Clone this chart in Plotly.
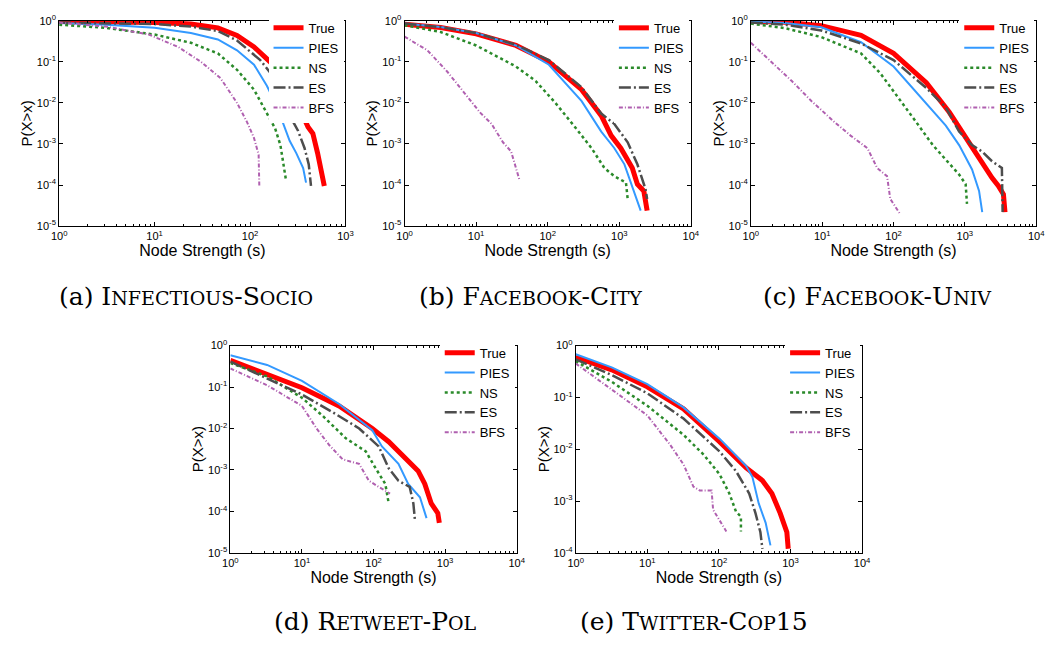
import plotly.graph_objects as go

# ---------------- data ----------------
SERIES = ["True", "PIES", "NS", "ES", "BFS"]
PANELS = ["a", "b", "c", "d", "e"]
SC = "<span style='font-size:19px'>"
CAPTIONS = [
    "(a) I" + SC + "NFECTIOUS</span>-S" + SC + "OCIO</span>",
    "(b) F" + SC + "ACEBOOK</span>-C" + SC + "ITY</span>",
    "(c) F" + SC + "ACEBOOK</span>-U" + SC + "NIV</span>",
    "(d) R" + SC + "ETWEET</span>-P" + SC + "OL</span>",
    "(e) T" + SC + "WITTER</span>-C" + SC + "OP</span>15",
]
X_TICKVALS = [1, 10, 100, 1000, 10000]
X_TICKTEXT = ["10<sup>0</sup>", "10<sup>1</sup>", "10<sup>2</sup>", "10<sup>3</sup>", "10<sup>4</sup>"]
Y_TICKVALS = [1e-5, 1e-4, 1e-3, 1e-2, 1e-1, 1]
Y_TICKTEXT = ["10<sup>-5</sup>", "10<sup>-4</sup>", "10<sup>-3</sup>", "10<sup>-2</sup>", "10<sup>-1</sup>", "10<sup>0</sup>"]
X_RANGES = [[0, 3], [0, 4], [0, 4], [0, 4], [0, 4]]   # log10 decades
Y_RANGES = [[-5, 0], [-5, 0], [-5, 0], [-5, 0], [-4, 0]]

# (a) Infectious-Socio
A_TRUE_S = [1, 3.1, 10.2, 24, 46, 73, 110, 162, 214, 260, 345, 405, 455, 510, 550, 600]
A_TRUE_P = [0.96, 0.95, 0.91, 0.83, 0.67, 0.44, 0.23, 0.10, 0.044, 0.016, 0.0059, 0.0026, 0.0018, 6e-4, 2.6e-4, 9.5e-5]
A_PIES_S = [1, 3.1, 10, 24, 46, 73, 110, 150, 190, 222, 260, 305, 360, 386]
A_PIES_P = [0.88, 0.8, 0.67, 0.5, 0.35, 0.19, 0.085, 0.026, 0.0085, 0.0034, 0.0012, 6e-4, 2.6e-4, 1.15e-4]
A_NS_S = [1, 3.1, 10, 24, 46, 73, 110, 150, 183, 208, 222, 237]
A_NS_P = [0.8, 0.67, 0.46, 0.29, 0.16, 0.064, 0.021, 0.0059, 0.0024, 9.4e-4, 3.2e-4, 1.4e-4]
A_ES_S = [1, 3.1, 10, 24, 46, 73, 128, 175, 214, 261, 318, 372, 412, 435]
A_ES_P = [0.9, 0.88, 0.83, 0.72, 0.56, 0.33, 0.11, 0.044, 0.016, 0.0049, 0.0021, 8e-4, 3.2e-4, 9.5e-5]
A_BFS_S = [1, 3.1, 8.7, 17.7, 30.6, 49, 73, 93, 110, 123, 125]
A_BFS_P = [0.9, 0.72, 0.46, 0.23, 0.1, 0.04, 0.01, 0.0034, 0.0014, 5.5e-4, 9.5e-5]

# (b) Facebook-City
B_TRUE_S = [1, 3.2, 10, 36, 104, 298, 560, 770, 1050, 1310, 1520, 1790, 2200, 2450]
B_TRUE_P = [0.82, 0.68, 0.48, 0.25, 0.1, 0.021, 0.0049, 0.0016, 7.9e-4, 3.8e-4, 2.6e-4, 1.05e-4, 7.2e-5, 2.4e-5]
B_PIES_S = [1, 3.2, 10, 36, 104, 298, 560, 850, 1180, 1600, 1990]
B_PIES_P = [0.85, 0.7, 0.5, 0.25, 0.085, 0.011, 0.002, 8e-4, 3.2e-4, 7.2e-5, 2.4e-5]
B_NS_S = [1, 3.2, 10, 36, 68, 128, 240, 410, 620, 850, 1240, 1310]
B_NS_P = [0.78, 0.53, 0.25, 0.077, 0.034, 0.01, 0.0026, 7.9e-4, 2.6e-4, 1.65e-4, 1.15e-4, 4.6e-5]
B_ES_S = [1, 3.2, 10, 36, 104, 298, 560, 850, 1310, 1790, 2330, 2450]
B_ES_P = [0.85, 0.7, 0.5, 0.26, 0.11, 0.024, 0.0055, 0.0031, 0.0011, 3.2e-4, 7.9e-5, 4.6e-5]
B_BFS_S = [1, 2.09, 3.94, 6.7, 11.3, 16.4, 23.7, 30.8, 36, 40]
B_BFS_P = [0.41, 0.19, 0.058, 0.018, 0.0059, 0.0031, 0.0011, 6.6e-4, 2.6e-4, 1.4e-4]

# (c) Facebook-Univ
C_TRUE_S = [1, 3, 9.7, 35, 100, 288, 605, 1025, 1580, 2400, 2950, 3470, 3650]
C_TRUE_P = [0.97, 0.92, 0.76, 0.44, 0.16, 0.031, 0.0059, 0.0014, 4.6e-4, 1.5e-4, 9.5e-5, 6e-5, 2.2e-5]
C_PIES_S = [1, 3, 9.7, 35, 100, 288, 540, 830, 1260, 1580, 1750]
C_PIES_P = [0.95, 0.88, 0.69, 0.3, 0.077, 0.01, 0.0028, 9.4e-4, 2.4e-4, 7.2e-5, 2.2e-5]
C_NS_S = [1, 3, 9.7, 35, 65, 123, 208, 355, 540, 830, 1025, 1070]
C_NS_P = [0.85, 0.66, 0.4, 0.16, 0.053, 0.012, 0.0034, 9.4e-4, 4.1e-4, 1.8e-4, 1.05e-4, 3.5e-5]
C_ES_S = [1, 3, 9.7, 35, 100, 288, 540, 830, 1260, 1750, 2400, 3300, 3380]
C_ES_P = [0.9, 0.8, 0.58, 0.28, 0.11, 0.023, 0.0078, 0.002, 9.4e-4, 6.5e-4, 3.8e-4, 2.6e-4, 2.2e-5]
C_BFS_S = [1, 2.0, 3.75, 7.1, 14.9, 25, 43, 59, 81, 90, 123]
C_BFS_P = [0.29, 0.092, 0.034, 0.011, 0.0034, 0.0016, 7.9e-4, 2.6e-4, 1.65e-4, 4.6e-5, 2e-5]

# (d) Retweet-Pol
D_TRUE_S = [1, 3.26, 10, 33, 96, 163, 275, 420, 520, 640, 790, 830]
D_TRUE_P = [0.44, 0.2, 0.096, 0.035, 0.01, 0.0048, 0.002, 9.5e-4, 4.6e-4, 1.56e-4, 9.1e-5, 5.3e-5]
D_PIES_S = [1, 3.26, 10, 33, 96, 131, 223, 305, 445, 550]
D_PIES_P = [0.58, 0.34, 0.14, 0.039, 0.0091, 0.0037, 0.0014, 4.6e-4, 2.2e-4, 6.9e-5]
D_NS_S = [1, 3.26, 10, 19.6, 41, 78, 107, 146, 163]
D_NS_P = [0.38, 0.18, 0.055, 0.02, 0.0058, 0.0028, 0.0011, 4.6e-4, 1.56e-4]
D_ES_S = [1, 3.26, 10, 30, 63, 118, 163, 223, 320, 360, 380]
D_ES_P = [0.41, 0.16, 0.066, 0.022, 0.01, 0.0037, 0.0011, 5.5e-4, 3.9e-4, 1.56e-4, 5.8e-5]
D_BFS_S = [1, 3.26, 10, 16, 24, 37, 63, 86, 118, 170]
D_BFS_P = [0.28, 0.11, 0.035, 0.01, 0.004, 0.0018, 0.0014, 5.5e-4, 3.9e-4, 2.7e-4]

# (e) Twitter-Cop15
E_TRUE_S = [1, 3.18, 10, 32, 102, 239, 405, 550, 720, 890, 930]
E_TRUE_P = [0.6, 0.34, 0.16, 0.06, 0.014, 0.0044, 0.0025, 0.0014, 5.8e-4, 2.5e-4, 1.2e-4]
E_PIES_S = [1, 3.18, 10, 32, 102, 239, 294, 360, 450, 525]
E_PIES_P = [0.68, 0.38, 0.18, 0.064, 0.016, 0.0048, 0.0029, 9e-4, 3.8e-4, 1.4e-4]
E_NS_S = [1, 3.18, 10, 32, 61, 102, 140, 173, 203, 203]
E_NS_P = [0.5, 0.2, 0.069, 0.019, 0.0079, 0.0033, 0.0014, 6.3e-4, 5e-4, 2.6e-4]
E_ES_S = [1, 3.18, 10, 32, 102, 173, 265, 325, 380, 405]
E_ES_P = [0.54, 0.27, 0.12, 0.039, 0.0091, 0.0038, 0.0014, 5.8e-4, 2.5e-4, 1.2e-4]
E_BFS_S = [1, 3.18, 10, 21, 32, 44, 54, 79, 83, 127]
E_BFS_P = [0.45, 0.14, 0.045, 0.012, 0.0051, 0.0019, 0.0016, 0.0016, 6.8e-4, 2.6e-4]

DATA = {
    "a": [(A_TRUE_S, A_TRUE_P), (A_PIES_S, A_PIES_P), (A_NS_S, A_NS_P), (A_ES_S, A_ES_P), (A_BFS_S, A_BFS_P)],
    "b": [(B_TRUE_S, B_TRUE_P), (B_PIES_S, B_PIES_P), (B_NS_S, B_NS_P), (B_ES_S, B_ES_P), (B_BFS_S, B_BFS_P)],
    "c": [(C_TRUE_S, C_TRUE_P), (C_PIES_S, C_PIES_P), (C_NS_S, C_NS_P), (C_ES_S, C_ES_P), (C_BFS_S, C_BFS_P)],
    "d": [(D_TRUE_S, D_TRUE_P), (D_PIES_S, D_PIES_P), (D_NS_S, D_NS_P), (D_ES_S, D_ES_P), (D_BFS_S, D_BFS_P)],
    "e": [(E_TRUE_S, E_TRUE_P), (E_PIES_S, E_PIES_P), (E_NS_S, E_NS_P), (E_ES_S, E_ES_P), (E_BFS_S, E_BFS_P)],
}

# ---------------- styling / layout ----------------
W, H = 1059, 646
LINE_STYLES = [
    dict(color="#FF0000", width=5, dash="solid"),
    dict(color="#3399FF", width=2, dash="solid"),
    dict(color="#2A8A2A", width=2.5, dash="3px,3px"),
    dict(color="#4D4D4D", width=2.5, dash="12px,3px,2px,3px"),
    dict(color="#B060B0", width=2, dash="4px,2px,1px,2px"),
]
# plot-area pixel boxes: left, right, top, bottom
BOXES = [
    (52, 343, 13, 223),
    (403, 694, 13, 223),
    (755, 1045, 13, 223),
    (226, 517, 345, 557),
    (577, 868, 345, 557),
]
CAPTION_POS = [(181, 295), (531, 295), (883, 295), (374, 627), (697, 627)]

FONT = "Liberation Sans, Arial, sans-serif"
fig = go.Figure()
layout = dict(
    width=W, height=H, margin=dict(l=0, r=0, t=0, b=0),
    paper_bgcolor="white", plot_bgcolor="white", showlegend=True,
    font=dict(family=FONT, color="black"),
)
annotations = []

for i, p in enumerate(PANELS):
    n = "" if i == 0 else str(i + 1)
    L, R, T, B = BOXES[i]
    xd = [L / W, R / W]
    yd = [1 - B / H, 1 - T / H]
    lo, hi = Y_RANGES[i]
    yvals = [v for v in Y_TICKVALS if 10 ** lo <= v <= 10 ** hi]
    ytext = [t for v, t in zip(Y_TICKVALS, Y_TICKTEXT) if 10 ** lo <= v <= 10 ** hi]
    xlo, xhi = X_RANGES[i]
    xvals = [v for v in X_TICKVALS if 10 ** xlo <= v <= 10 ** xhi]
    xtext = [t for v, t in zip(X_TICKVALS, X_TICKTEXT) if 10 ** xlo <= v <= 10 ** xhi]
    xminor = [m * v for v in xvals[:-1] for m in range(2, 10)]
    axis_common = dict(type="log", showgrid=False, zeroline=False, showline=True,
                       linecolor="black", linewidth=1, mirror="ticks", ticks="inside",
                       ticklen=4, tickcolor="black", tickfont=dict(size=11, family=FONT))
    layout["xaxis" + n] = dict(axis_common, domain=xd, range=X_RANGES[i], anchor="y" + n,
                               tickvals=xvals, ticktext=xtext,
                               minor=dict(tickvals=xminor, ticks="inside", ticklen=2,
                                          tickcolor="black", showgrid=False),
                               title=dict(text="Node Strength (s)", font=dict(size=16), standoff=0))
    layout["yaxis" + n] = dict(axis_common, domain=yd, range=Y_RANGES[i], anchor="x" + n,
                               tickvals=yvals, ticktext=ytext,
                               title=dict(text="P(X>x)", font=dict(size=15), standoff=0))
    layout["legend" + n] = dict(x=(R - 2) / W, y=1 - (T - 8) / H, xanchor="right", yanchor="top",
                                xref="paper", yref="paper", bgcolor="white", borderwidth=0,
                                font=dict(size=13, family=FONT), itemwidth=30,
                                tracegroupgap=0)
    for k, name in enumerate(SERIES):
        s, pv = DATA[p][k]
        fig.add_trace(go.Scatter(x=s, y=pv, mode="lines", name=name, line=LINE_STYLES[k],
                                 xaxis="x" + n, yaxis="y" + n, legend="legend" + n))
    cx, cy = CAPTION_POS[i]
    annotations.append(dict(text=CAPTIONS[i], x=cx / W, y=1 - cy / H, xref="paper", yref="paper",
                            showarrow=False, xanchor="center", yanchor="middle",
                            font=dict(size=25, family="DejaVu Serif, serif")))

layout["annotations"] = annotations
fig.update_layout(**layout)
fig.write_html("out.html")
